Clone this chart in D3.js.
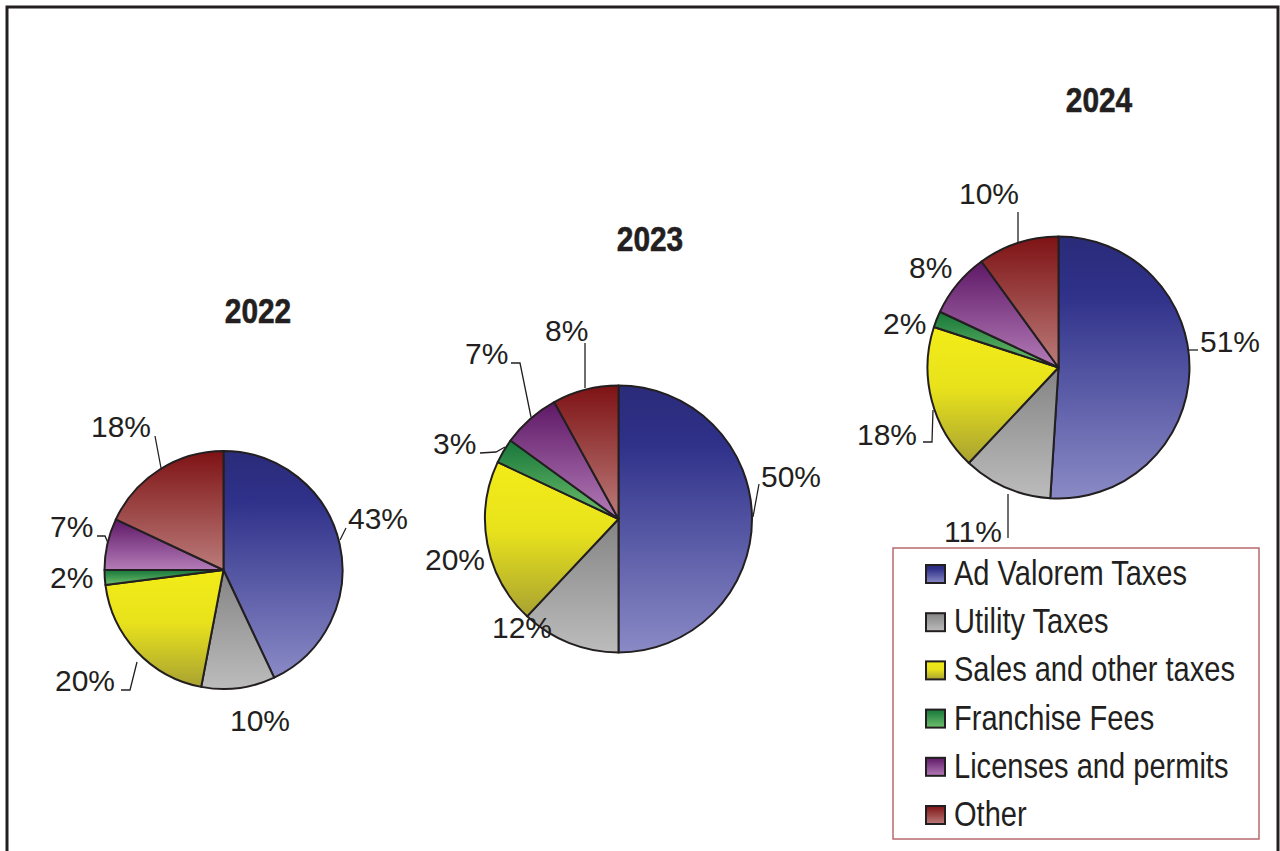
<!DOCTYPE html>
<html>
<head>
<meta charset="utf-8">
<script src="https://cdn.jsdelivr.net/npm/d3@7"></script>
<style>
  html, body { margin: 0; padding: 0; background: #fff; }
  svg { display: block; }
</style>
</head>
<body>
<svg id="chart" width="1280" height="851"></svg>
<script>
// ---------------- DATA ----------------
const categories = ["Ad Valorem Taxes", "Utility Taxes", "Sales and other taxes", "Franchise Fees", "Licenses and permits", "Other"];
const years = ["2022", "2023", "2024"];
const values2022 = [43, 10, 20, 2, 7, 18];
const values2023 = [50, 12, 20, 3, 7, 8];
const values2024 = [51, 11, 18, 2, 8, 10];
const seriesValues = [values2022, values2023, values2024];

// ---------------- STYLE / LAYOUT ----------------
const gradients = [
  [["0", "#2a2b78"], ["0.22", "#2f318a"], ["1", "#8a8ac6"]],
  [["0", "#848484"], ["1", "#bbbcbb"]],
  [["0", "#f3ec18"], ["0.45", "#e8e21c"], ["1", "#a8a232"]],
  [["0", "#17763a"], ["1", "#6ec06c"]],
  [["0", "#5e1866"], ["1", "#b47cb8"]],
  [["0", "#7e1214"], ["1", "#bb7c7a"]]
];
const pieLayout = [
  { cx: 223.5, cy: 570, r: 119, titleX: 258, titleY: 323 },
  { cx: 618.5, cy: 519, r: 133.5, titleX: 650, titleY: 251 },
  { cx: 1058.5, cy: 367.5, r: 131, titleX: 1099, titleY: 112 }
];
const labelLayout = [
  [
    { x: 348, y: 529, leader: [[340, 540], [346, 528]] },
    { x: 230, y: 731 },
    { x: 55, y: 691, leader: [[121, 690], [130, 690], [137, 662]] },
    { x: 50, y: 588 },
    { x: 50, y: 537, leader: [[97, 536], [105, 536], [108, 543]] },
    { x: 91, y: 437, leader: [[155, 436], [161, 468]] }
  ],
  [
    { x: 761, y: 487, leader: [[753, 517], [759, 484]] },
    { x: 492, y: 638 },
    { x: 425, y: 570 },
    { x: 433, y: 454, leader: [[480, 453], [496, 452], [505, 447]] },
    { x: 465, y: 364, leader: [[511, 363], [520, 363], [531, 417]] },
    { x: 545, y: 341, leader: [[585, 343], [585, 388]] }
  ],
  [
    { x: 1200, y: 352, leader: [[1189, 350], [1198, 350]] },
    { x: 944, y: 542, leader: [[1008, 494], [1008, 538]] },
    { x: 857, y: 445, leader: [[923, 442], [932, 442], [933, 410]] },
    { x: 883, y: 334 },
    { x: 909, y: 278 },
    { x: 959, y: 204, leader: [[1018, 212], [1018, 242]] }
  ]
];
const ink = "#231f20";

// ---------------- DRAW ----------------
const svg = d3.select("#chart");
const defs = svg.append("defs");
gradients.forEach((stops, i) => {
  const g = defs.append("linearGradient")
    .attr("id", "grad" + i)
    .attr("x1", 0).attr("y1", 0).attr("x2", 0).attr("y2", 1);
  stops.forEach(s => g.append("stop").attr("offset", s[0]).attr("stop-color", s[1]));
});

// outer frame
svg.append("rect")
  .attr("x", 7).attr("y", 7)
  .attr("width", 1271).attr("height", 900)
  .attr("fill", "none").attr("stroke", ink).attr("stroke-width", 3);

const pie = d3.pie().sort(null).value(d => d.value).startAngle(0).endAngle(2 * Math.PI);
const fmt = d3.format(".0f");

years.forEach((yr, yi) => {
  const L = pieLayout[yi];
  const data = categories.map((c, i) => ({ cat: c, idx: i, value: seriesValues[yi][i] }));
  const arcs = pie(data);
  const arc = d3.arc().innerRadius(0).outerRadius(L.r);
  const g = svg.append("g").attr("transform", `translate(${L.cx},${L.cy})`);
  g.selectAll("path.slice")
    .data(arcs)
    .join("path")
    .attr("class", "slice")
    .attr("d", arc)
    .attr("fill", d => `url(#grad${d.data.idx})`)
    .attr("stroke", ink)
    .attr("stroke-width", 2)
    .attr("stroke-linejoin", "round");

  // title
  svg.append("text")
    .attr("transform", `translate(${L.titleX},${L.titleY}) scale(0.83,1)`)
    .attr("text-anchor", "middle")
    .attr("font-family", "'Liberation Sans', Arial, sans-serif")
    .attr("font-weight", "bold")
    .attr("font-size", 36)
    .attr("fill", ink)
    .attr("stroke", ink).attr("stroke-width", 0.6)
    .text(yr);

  // labels
  const line = d3.line();
  arcs.forEach((a, i) => {
    const lab = labelLayout[yi][i];
    if (lab.leader) {
      svg.append("path")
        .attr("d", line(lab.leader))
        .attr("fill", "none")
        .attr("stroke", ink)
        .attr("stroke-width", 1.3);
    }
    svg.append("text")
      .attr("x", lab.x).attr("y", lab.y)
      .attr("font-family", "'Liberation Sans', Arial, sans-serif")
      .attr("font-size", 30)
      .attr("fill", ink)
      .text(fmt(a.data.value) + "%");
  });
});

// legend
const legend = svg.append("g");
legend.append("rect")
  .attr("x", 893).attr("y", 548)
  .attr("width", 366).attr("height", 291)
  .attr("fill", "#fff").attr("stroke", "#b86a6e").attr("stroke-width", 1.5);
const ly = d3.scaleLinear().domain([0, categories.length - 1]).range([585, 826]);
categories.forEach((c, i) => {
  legend.append("rect")
    .attr("x", 926).attr("y", ly(i) - 20)
    .attr("width", 19).attr("height", 18)
    .attr("fill", `url(#grad${i})`)
    .attr("stroke", ink).attr("stroke-width", 2);
  legend.append("text")
    .attr("transform", `translate(954,${ly(i)}) scale(0.83,1)`)
    .attr("font-family", "'Liberation Sans', Arial, sans-serif")
    .attr("font-size", 35)
    .attr("fill", ink)
    .text(c);
});
</script>
</body>
</html>
